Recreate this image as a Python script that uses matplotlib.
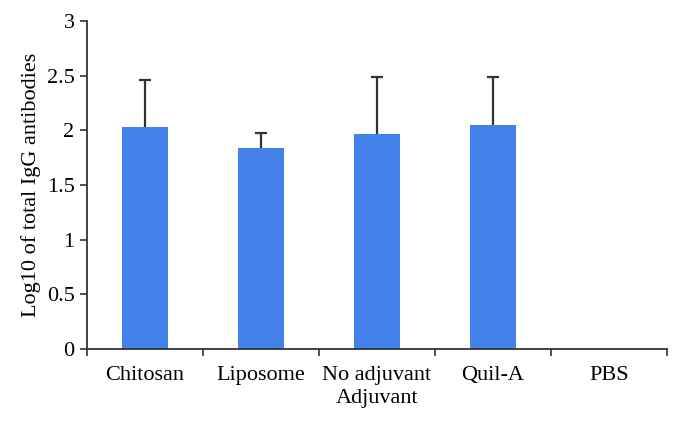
import numpy as np
import matplotlib
matplotlib.use('Agg')
import matplotlib.pyplot as plt

# data
groups = ['Chitosan', 'Liposome', 'No adjuvant', 'Quil-A', 'PBS']
log_igg = np.array([2.03, 1.835, 1.97, 2.05, 0])
err_up = np.array([0.43, 0.14, 0.52, 0.44, 0])

plt.rcParams['font.family'] = ['Liberation Serif', 'DejaVu Serif']
fs = 16

fig = plt.figure(figsize=(6.82, 4.25), dpi=100)
ax = fig.add_axes([0.1276, 0.1788, 0.8504, 0.7718])

x = np.arange(len(groups))
ax.bar(x, log_igg, 0.4, color='#4282e8', zorder=2)
# upper error bars only
has_err = err_up > 0
ax.errorbar(x[has_err], log_igg[has_err], yerr=[np.zeros(has_err.sum()), err_up[has_err]],
            fmt='none', ecolor='#333333', elinewidth=1.6, capsize=0, zorder=3)
ax.plot(x[has_err], (log_igg + err_up)[has_err], linestyle='none', marker='_',
        markersize=8, markeredgewidth=1.6, color='#333333', zorder=3)

ax.set_xlim(-0.5, len(groups) - 0.5)
ax.set_ylim(0, 3)
ax.set_yticks([0, 0.5, 1, 1.5, 2, 2.5, 3])
ax.set_yticklabels(['0', '0.5', '1', '1.5', '2', '2.5', '3'])

# ticks between categories, labels at centres
ax.set_xticks(np.arange(len(groups) + 1) - 0.5)
ax.set_xticklabels([])
ax.set_xticks(x, minor=True)
ax.set_xticklabels(groups, minor=True)
ax.tick_params(axis='x', which='minor', length=0, pad=12, labelsize=fs)
ax.tick_params(axis='x', which='major', length=5, width=1.2, color='#333333')
ax.tick_params(axis='y', length=5, width=1.2, color='#333333', labelsize=fs, pad=4)

for s in ['top', 'right']:
    ax.spines[s].set_visible(False)
for s in ['left', 'bottom']:
    ax.spines[s].set_linewidth(1.3)
    ax.spines[s].set_color('#333333')

ax.set_xlabel('Adjuvant', fontsize=fs, labelpad=3)
ax.set_ylabel('Log10 of total IgG antibodies', fontsize=fs, labelpad=4)

fig.savefig('out.png', dpi=100)
